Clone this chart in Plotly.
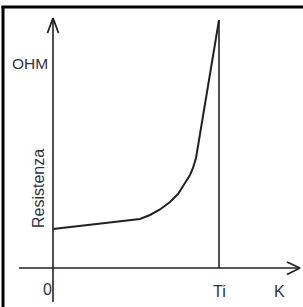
import plotly.graph_objects as go

# Schematic data (arbitrary units: temperature K vs resistance OHM)
temperature = [0, 87, 97, 107, 117, 125, 132, 137, 140, 143, 144, 166]
resistance = [39, 49, 53, 58.5, 66, 74, 85, 93, 100, 110, 116, 248]
ti_value = 166
x_labels = ["0", "Ti", "K"]

W, H = 303, 307
# axis extents (data units)
x_min_axis, x_max_axis = -34, 247
y_min_axis, y_max_axis = -34, 250

fig = go.Figure()

line_col = "#222222"

# main curve
fig.add_trace(go.Scatter(x=temperature, y=resistance, mode="lines",
                         line=dict(color=line_col, width=2), hoverinfo="skip"))

# Ti vertical line
fig.add_trace(go.Scatter(x=[ti_value, ti_value], y=[0, max(resistance)], mode="lines",
                         line=dict(color=line_col, width=1.6), hoverinfo="skip"))

# axes
fig.add_trace(go.Scatter(x=[x_min_axis, x_max_axis], y=[0, 0], mode="lines",
                         line=dict(color=line_col, width=1.6), hoverinfo="skip"))
fig.add_trace(go.Scatter(x=[0, 0], y=[y_min_axis, y_max_axis], mode="lines",
                         line=dict(color=line_col, width=1.6), hoverinfo="skip"))
# arrowheads (open chevrons)
fig.add_trace(go.Scatter(x=[-5.5, 0, 5.5], y=[y_max_axis - 15, y_max_axis, y_max_axis - 15],
                         mode="lines", line=dict(color=line_col, width=1.8), hoverinfo="skip"))
fig.add_trace(go.Scatter(x=[x_max_axis - 13, x_max_axis, x_max_axis - 13], y=[6, 0, -6.5],
                         mode="lines", line=dict(color=line_col, width=1.8), hoverinfo="skip"))

txt_col = "#30343c"
font = "Liberation Sans, Arial, sans-serif"
annots = [
    dict(x=-23, y=205, text="OHM", font=dict(size=15.5, color=txt_col, family=font)),
    dict(x=-15, y=79, text="Resistenza", textangle=-90, font=dict(size=16, color=txt_col, family=font)),
    dict(x=-5.5, y=-21, text=x_labels[0], font=dict(size=16, color=txt_col, family=font)),
    dict(x=ti_value + 0.5, y=-23, text=x_labels[1], font=dict(size=16, color=txt_col, family=font)),
    dict(x=226.5, y=-23, text=x_labels[2], font=dict(size=16, color=txt_col, family=font)),
]
for a in annots:
    a.update(showarrow=False, xref="x", yref="y")

fig.update_layout(
    width=W, height=H,
    margin=dict(l=0, r=0, t=0, b=0),
    paper_bgcolor="white", plot_bgcolor="white",
    showlegend=False,
    xaxis=dict(range=[-53, 250], visible=False, fixedrange=True),
    yaxis=dict(range=[-39, 268], visible=False, fixedrange=True),
    annotations=annots,
    shapes=[
        dict(type="line", xref="paper", yref="paper", x0=3 / W, x1=3 / W, y0=0, y1=1 - 6 / H,
             line=dict(color="black", width=3)),
        dict(type="line", xref="paper", yref="paper", x0=1.5 / W, x1=1, y0=1 - 7 / H, y1=1 - 7 / H,
             line=dict(color="black", width=3)),
    ],
)

fig.write_html("out.html", config={"displayModeBar": False},
               post_script="document.body.style.margin='0';document.body.style.overflow='hidden';")
